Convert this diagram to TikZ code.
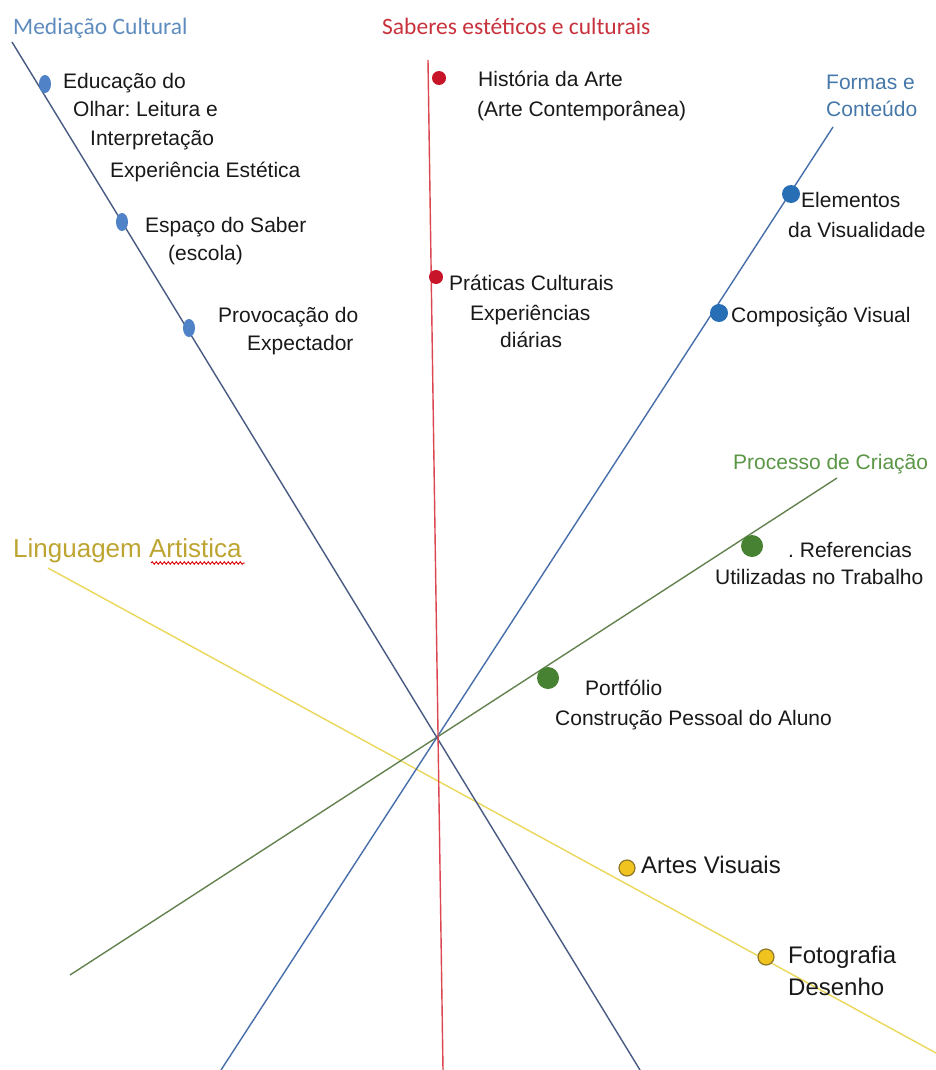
\documentclass[tikz,border=0pt]{standalone}
\usepackage{fontspec}
\setmainfont{Liberation Sans}
\newfontfamily\calib{Carlito}
\usetikzlibrary{shapes.geometric,decorations.pathmorphing}
\definecolor{medtitle}{RGB}{95,140,190}
\definecolor{medline}{RGB}{70,90,130}
\definecolor{medfill}{RGB}{80,130,200}
\definecolor{redtitle}{RGB}{200,50,60}
\definecolor{redline}{RGB}{220,70,80}
\definecolor{redfill}{RGB}{200,20,40}
\definecolor{formtitle}{RGB}{70,120,170}
\definecolor{formline}{RGB}{70,110,170}
\definecolor{formfill}{RGB}{40,110,180}
\definecolor{greentitle}{RGB}{90,150,70}
\definecolor{greenline}{RGB}{100,130,80}
\definecolor{greenfill}{RGB}{70,130,50}
\definecolor{yeltitle}{RGB}{190,165,50}
\definecolor{yelline}{RGB}{235,215,90}
\definecolor{yelfill}{RGB}{240,195,30}
\definecolor{yeldraw}{RGB}{140,120,40}
\definecolor{txtcol}{RGB}{25,25,25}
\frenchspacing
\begin{document}
\begin{tikzpicture}[x=1pt,y=-1pt,
  txt/.style={anchor=base west,inner sep=0pt,font=\fontsize{21}{25}\selectfont,text=txtcol},
  bigtxt/.style={anchor=base west,inner sep=0pt,font=\fontsize{24}{28}\selectfont,text=txtcol},
  caltitle/.style={anchor=base west,inner sep=0pt,font=\calib\fontsize{23.5}{28}\selectfont},
  ariatitle/.style={anchor=base west,inner sep=0pt,font=\fontsize{21}{25}\selectfont},
  axis/.style={line width=1.4pt},
  mdot/.style={ellipse,fill=medfill,minimum width=12pt,minimum height=18pt,inner sep=0pt},
  rdot/.style={circle,fill=redfill,minimum size=14pt,inner sep=0pt},
  fdot/.style={circle,fill=formfill,minimum size=18pt,inner sep=0pt},
  gdot/.style={circle,fill=greenfill,minimum size=22pt,inner sep=0pt},
  ydot/.style={circle,fill=yelfill,draw=yeldraw,line width=1.2pt,minimum size=16pt,inner sep=0pt}]
\useasboundingbox[fill=white] (0,0) rectangle (936,1070);

% axis end points
\coordinate (mA) at (12,42);
\coordinate (mB) at (640,1070);
\coordinate (rA) at (428,60);
\coordinate (rB) at (443,1070);
\coordinate (fA) at (833,127);
\coordinate (fB) at (221,1070);
\coordinate (gA) at (837,478);
\coordinate (gB) at (70,975);
\coordinate (yA) at (48,568);
\coordinate (yB) at (936,1053);

\draw[axis,yelline] (yA) -- (yB);
\draw[axis,greenline] (gA) -- (gB);
\draw[axis,formline] (fA) -- (fB);
\draw[axis,medline] (mA) -- (mB);
\draw[axis,redline] (rA) -- (rB);

% titles
\node[caltitle,text=medtitle] (tmed) at (13,35) {Mediação Cultural};
\node[caltitle,text=redtitle] (tred) at (382,35) {Saberes estéticos e culturais};
\node[ariatitle,text=formtitle] (tform1) at (826,90) {Formas e};
\node[ariatitle,text=formtitle] (tform2) at (826,117) {Conteúdo};
\node[ariatitle,text=greentitle] (tgreen) at (733,469) {Processo de Criação};
\node[anchor=base west,inner sep=0pt,font=\fontsize{26}{30}\selectfont,text=yeltitle] (tyel) at (13,557) {Linguagem Artistica};
\coordinate (sq1) at (151,563);
\coordinate (sq2) at (245,563);
\draw[red!85!black,line width=0.9pt,decorate,decoration={snake,amplitude=1.3pt,segment length=4pt}] (sq1) -- (sq2);

% Mediação Cultural
\node[mdot] (m1) at (45,84) {};
\node[mdot] (m2) at (122,222) {};
\node[mdot] (m3) at (189,328) {};
\node[txt] (e1) at (63,89) {Educação do};
\node[txt] (e2) at (73,117) {Olhar: Leitura e};
\node[txt] (e3) at (90,145) {Interpretação};
\node[txt] (e4) at (110,177) {Experiência Estética};
\node[txt] (s1) at (145,232) {Espaço do Saber};
\node[txt] (s2) at (168,260) {(escola)};
\node[txt] (p1) at (218,322) {Provocação do};
\node[txt] (p2) at (247,350) {Expectador};

% Saberes
\node[rdot] (r1) at (439,78) {};
\node[rdot] (r2) at (436,277) {};
\node[txt] (h1) at (478,87) {História da Arte};
\node[txt] (h2) at (477,117) {(Arte Contemporânea)};
\node[txt] (c1) at (449,290) {Práticas Culturais};
\node[txt] (c2) at (470,320) {Experiências};
\node[txt] (c3) at (500,347) {diárias};

% Formas e Conteúdo
\node[fdot] (f1) at (791,194) {};
\node[fdot] (f2) at (719,313) {};
\node[txt] (el1) at (801,207) {Elementos};
\node[txt] (el2) at (788,237) {da Visualidade};
\node[txt] (cv) at (731,322) {Composição Visual};

% Processo de Criação
\node[gdot] (g1) at (752,546) {};
\node[gdot] (g2) at (548,678) {};
\node[txt] (rf1) at (788,557) {. Referencias};
\node[txt] (rf2) at (715,584) {Utilizadas no Trabalho};
\node[txt] (pf1) at (585,695) {Portfólio};
\node[txt] (pf2) at (555,725) {Construção Pessoal do Aluno};

% Linguagem Artistica
\node[ydot] (y1) at (627,868) {};
\node[ydot] (y2) at (766,957) {};
\node[bigtxt] (av) at (641,873) {Artes Visuais};
\node[bigtxt] (fo) at (788,963) {Fotografia};
\node[bigtxt] (de) at (788,995) {Desenho};
\end{tikzpicture}
\end{document}
